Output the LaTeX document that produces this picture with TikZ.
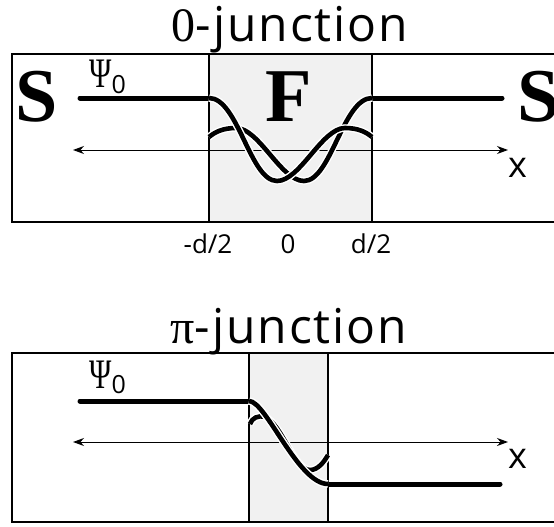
\documentclass[tikz,border=0pt]{standalone}
\usepackage{fontspec}
\setmainfont{Liberation Serif}
\newfontfamily\sansf{Open Sans}
\newfontfamily\titlesans[LetterSpace=4]{Open Sans}
\usetikzlibrary{arrows.meta}
\tikzset{
  panel/.style={line width=2.6pt},
  divider/.style={line width=1.6pt},
  fregion/.style={fill=gray!11},
  thickline/.style={line width=5pt, line cap=round},
  wave/.style={line width=4.6pt, preaction={draw=white, line width=7.5pt}},
  axis/.style={line width=1pt, <->, >={Stealth[length=11pt,width=8pt]}},
  bigletter/.style={inner sep=0pt, font=\fontsize{76}{76}\selectfont\bfseries},
  title/.style={inner sep=0pt, font=\fontsize{48}{48}\selectfont},
  psilabel/.style={inner sep=0pt, font=\fontsize{42}{42}\selectfont},
  xlabel/.style={inner sep=0pt, font=\sansf\fontsize{36}{36}\selectfont},
  ticklabel/.style={inner sep=0pt, font=\sansf\fontsize{26}{26}\selectfont}
}
\newcommand{\psizero}{\scalebox{0.72}[1]{Ψ}\raisebox{-0.12em}{\fontsize{25}{25}\selectfont\sansf 0}}
\begin{document}
\begin{tikzpicture}[x=1pt,y=-1pt]
\useasboundingbox (0,0) rectangle (554,527);
\clip (0,0) rectangle (554,527);

% ---------------- 0-junction ----------------
\node[title, anchor=base] (t0) at (290,42) {0\titlesans -junction};
\fill[fregion] (209,54) rectangle (372,222);
\draw[panel] (12,54) rectangle (575,222);
\draw[divider] (209,54) -- (209,222);
\draw[divider] (372,54) -- (372,222);

\node[bigletter, anchor=base west] (sl) at (15,121) {S};
\node[bigletter, anchor=base west] (sr) at (517,121) {S};
\node[bigletter, anchor=base] (f) at (289,121) {F};
\node[psilabel, anchor=base west] (psi0) at (89,88) {\psizero};

\coordinate (a0l) at (73,150);
\coordinate (a0r) at (508,150);
\draw[axis] (a0l) -- (a0r);
\node[xlabel, anchor=base west] (x0) at (508,177) {x};

\node[ticklabel, anchor=base] (tm) at (208,253) {-d/2};
\node[ticklabel, anchor=base] (tz) at (288,253) {0};
\node[ticklabel, anchor=base] (tp) at (371,253) {d/2};

\coordinate (l0s) at (80,98);
\coordinate (l0a) at (209,98);
\coordinate (l0b) at (372,98);
\coordinate (l0e) at (502,98);
\draw[thickline] (l0s) -- (l0a);
\draw[thickline] (l0b) -- (l0e);
\draw[wave] (209,137) .. controls (215,132) and (223,128) .. (236,128)
  .. controls (259,128) and (281,181) .. (304,181)
  .. controls (331,181) and (343,98) .. (l0b);
\draw[wave] (l0a) .. controls (238,98) and (250,181) .. (277,181)
  .. controls (300,181) and (322,128) .. (345,128)
  .. controls (358,128) and (366,132) .. (372,137);

% ---------------- pi-junction ----------------
\node[title, anchor=base] (tpi) at (289,343) {π\titlesans -junction};
\fill[fregion] (249,353) rectangle (328,522);
\draw[panel] (12,353) rectangle (575,522);
\draw[divider] (249,353) -- (249,522);
\draw[divider] (328,353) -- (328,522);

\node[psilabel, anchor=base west] (psi1) at (89,388) {\psizero};

\coordinate (a1l) at (73,442);
\coordinate (a1r) at (508,442);
\draw[axis] (a1l) -- (a1r);
\node[xlabel, anchor=base west] (x1) at (508,468) {x};

\coordinate (l1s) at (80,401);
\coordinate (l1a) at (249,401);
\coordinate (l1b) at (328,484);
\coordinate (l1e) at (500,484);
\draw[thickline] (l1s) -- (l1a);
\draw[thickline] (l1b) -- (l1e);
\draw[wave] (250,424) .. controls (252,418) and (258,415) .. (265,417)
  .. controls (282,424) and (294,470) .. (310,470)
  .. controls (318,470) and (324,462) .. (328,455);
\draw[wave] (l1a) .. controls (266,401) and (298,484) .. (l1b);
\end{tikzpicture}
\end{document}
